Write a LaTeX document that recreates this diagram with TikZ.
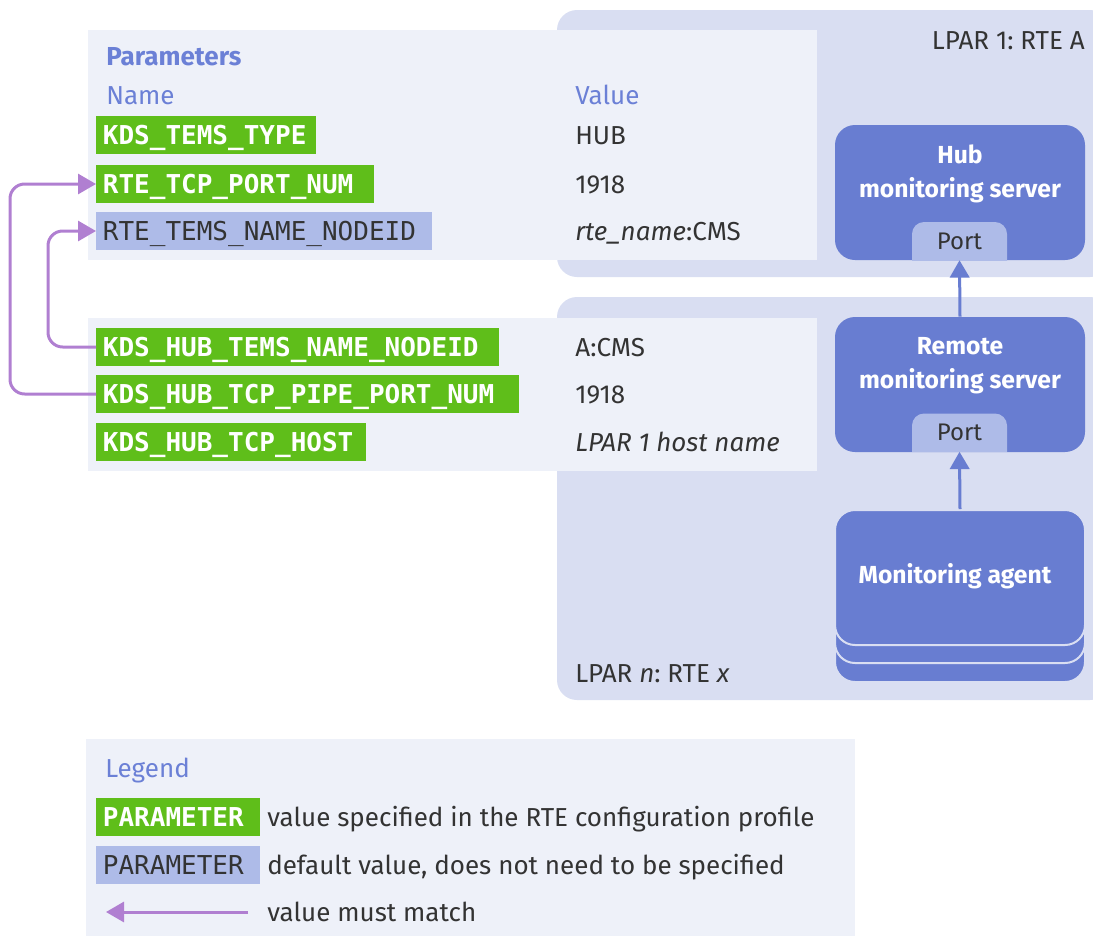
\documentclass[tikz,border=0pt]{standalone}
\usepackage{fontspec}
\setmainfont{Fira Sans}
\setmonofont{DejaVu Sans Mono}
\usetikzlibrary{positioning, arrows.meta}
\frenchspacing

\definecolor{paramgreen}{HTML}{5FBE1A}
\definecolor{paramlav}{HTML}{AEBBE8}
\definecolor{panelbg}{HTML}{EEF1F9}
\definecolor{lparbg}{HTML}{D9DEF2}
\definecolor{serverblue}{HTML}{687DD1}
\definecolor{headblue}{HTML}{6B80D6}
\definecolor{matchpurple}{HTML}{B07FD1}
\definecolor{textdark}{HTML}{333333}

\begin{document}
\begin{tikzpicture}[x=0.75pt, y=-0.75pt,
    lpar/.style={fill=lparbg, rounded corners=15pt},
    panel/.style={fill=panelbg},
    param/.style={fill=paramgreen, text=white, anchor=west, inner xsep=5pt, minimum height=28.5pt,
        text height=14.2pt, text depth=0pt,
        font=\fontsize{19.5}{22}\selectfont\ttfamily\bfseries},
    paramdef/.style={param, fill=paramlav, text=textdark, font=\fontsize{19.5}{22}\selectfont\ttfamily},
    val/.style={anchor=west, inner sep=0pt, text=textdark, font=\fontsize{19.5}{23}\selectfont,
        text height=13.5pt, text depth=0pt},
    heading/.style={val, text=headblue},
    server/.style={rectangle, rounded corners=15pt, fill=serverblue, minimum width=187.5pt, minimum height=101.25pt},
    servertext/.style={align=center, text=white, font=\fontsize{18.5}{25.5}\selectfont\bfseries},
    port/.style={minimum width=71.25pt, minimum height=28.5pt, inner sep=0pt, text=textdark,
        font=\fontsize{18}{21}\selectfont,
        path picture={\fill[paramlav, rounded corners=9pt] (path picture bounding box.north west)
            rectangle ([yshift=-12pt]path picture bounding box.south east);}},
    flow/.style={-{Triangle[length=13pt, width=14.5pt]}, line width=2.25pt, serverblue},
    match/.style={-{Triangle[length=13.5pt, width=15pt]}, line width=2.25pt, matchpurple, rounded corners=11pt}
]
\useasboundingbox (0,0) rectangle (1093,936);

% === LPAR BACKGROUNDS ===
\fill[lpar] (557,10) rectangle (1110,277);
\fill[lpar] (557,297) rectangle (1110,700);
\node[val, anchor=east] (lpar1) at (1085,40) {LPAR 1: RTE A};
\node[val] (lparn) at (575,673) {LPAR \textit{n}: RTE \textit{x}};

% === PARAMETER PANELS ===
\fill[panel] (88,30) rectangle (817,260);
\fill[panel] (88,318) rectangle (817,471);

\node[heading, font=\fontsize{19.5}{23}\selectfont\bfseries] (params) at (106,56) {Parameters};
\node[heading] (namehead) at (106,95) {Name};
\node[heading] (valuehead) at (575,95) {Value};

% Hub side
\node[param, text width=155pt] (temstype) at (96,135) {KDS\_TEMS\_TYPE};
\node[param, text width=198pt] (tcpport) at (96,184) {RTE\_TCP\_PORT\_NUM};
\node[paramdef, text width=242pt] (rtename) at (96,231) {RTE\_TEMS\_NAME\_NODEID};
\node[val] (v1) at (575,135) {HUB};
\node[val] (v2) at (575,184) {1918};
\node[val] (v3) at (575,231) {\textit{rte\_name}:CMS};

% Remote side
\node[param, text width=292pt] (hubname) at (96,347) {KDS\_HUB\_TEMS\_NAME\_NODEID};
\node[param, text width=307pt] (pipeport) at (96,394) {KDS\_HUB\_TCP\_PIPE\_PORT\_NUM};
\node[param, text width=192pt] (hubhost) at (96,442) {KDS\_HUB\_TCP\_HOST};
\node[val] (v4) at (575,347) {A:CMS};
\node[val] (v5) at (575,394) {1918};
\node[val] (v6) at (575,442) {\textit{LPAR 1 host name}};

% Value must match
\coordinate (railA) at (10,0);
\coordinate (railB) at (48,0);
\draw[match] (pipeport.west) -- (railA |- pipeport.west) -- (railA |- tcpport.west) -- (tcpport.west);
\draw[match] (hubname.west) -- (railB |- hubname.west) -- (railB |- rtename.west) -- (rtename.west);

% === SERVERS ===
\node[server] (hub) at (960,192.5) {};
\node[servertext] (hubtext) at (960,174) {Hub\\monitoring server};
\node[port] (hubport) at (959.5,241) {Port};

\node[server] (remote) at (960,384.5) {};
\node[servertext] (remotetext) at (960,366) {Remote\\monitoring server};
\node[port] (remoteport) at (959.5,432.5) {Port};

% Agent stack
\node[server, draw=lparbg, line width=1.5pt] (agentback) at (960,614.5) {};
\node[server, draw=lparbg, line width=1.5pt] (agentmid) at (960,595.5) {};
\node[server, draw=lparbg, line width=1.5pt] (agent) at (960,577.5) {};
\node[servertext] (agenttext) at (955,576) {Monitoring agent};

\draw[flow] (remote.north) -- (hubport.south);
\draw[flow] (agent.north) -- (remoteport.south);

% === LEGEND ===
\fill[panel] (86,739) rectangle (855,936);
\node[heading] (legend) at (105,768) {Legend};
\node[param, text width=113pt] (legspec) at (96,817) {PARAMETER};
\node[paramdef, text width=113pt] (legdef) at (96,865) {PARAMETER};
\node[val] (legspectext) at (267,817) {value specified in the RTE configuration profile};
\node[val] (legdeftext) at (267,865) {default value, does not need to be specified};
\coordinate (legtail) at (248,912);
\coordinate (leghead) at (106,912);
\draw[match] (legtail) -- (leghead);
\node[val] (legmatchtext) at (267,912) {value must match};

\end{tikzpicture}
\end{document}
